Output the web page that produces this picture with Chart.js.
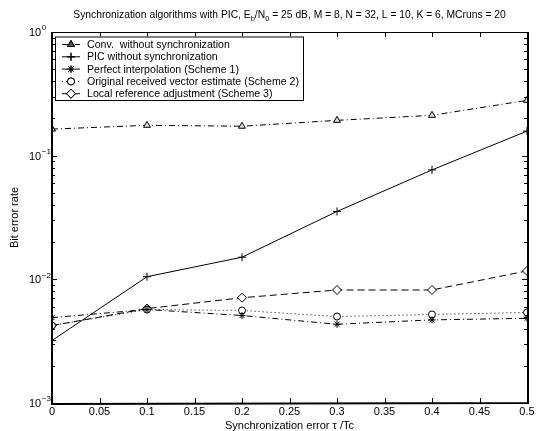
<!DOCTYPE html>
<html>
<head>
<meta charset="utf-8">
<script src="https://cdn.jsdelivr.net/npm/chart.js@4.4.0/dist/chart.umd.min.js"></script>
<style>
  html, body { margin: 0; padding: 0; background: #fff; }
  #wrap { width: 539px; height: 431px; }
</style>
</head>
<body>
<div id="wrap"><canvas id="berChart" width="539" height="431"></canvas></div>
<script>
// Values
const syncError = [0, 0.1, 0.2, 0.3, 0.4, 0.5];
const convNoSync = [0.164, 0.176, 0.173, 0.193, 0.212, 0.28];
const picNoSync = [0.0032, 0.0105, 0.0151, 0.0354, 0.0767, 0.158];
const perfectInterp = [0.0049, 0.0057, 0.0051, 0.00433, 0.0047, 0.00484];
const origVector = [0.00423, 0.0057, 0.0056, 0.0050, 0.0052, 0.0054];
const localRef = [0.00423, 0.0058, 0.0071, 0.0082, 0.0082, 0.0117];

const seriesNames = [
    'Conv.  without synchronization',
    'PIC without synchronization',
    'Perfect interpolation (Scheme 1)',
    'Original received vector estimate (Scheme 2)',
    'Local reference adjustment (Scheme 3)'
];
const yDecades = [0, -1, -2, -3];
const titleParts = [
    ['Synchronization algorithms with PIC, E', false],
    ['b', true],
    ['/N', false],
    ['0', true],
    [' = 25 dB, M = 8, N = 32, L = 10, K = 6, MCruns = 20', false]
];

const FONT = '"Liberation Sans", Arial, Helvetica, sans-serif';

function toPoints(ys) {
    return syncError.map((x, i) => ({ x: x, y: ys[i] }));
}

function series(label, ys, pointStyle, dash, radius, fill) {
    return {
        label: label,
        data: toPoints(ys),
        borderColor: '#000',
        borderWidth: 1,
        borderDash: dash,
        pointStyle: pointStyle,
        pointRadius: radius,
        pointBorderColor: '#000',
        pointBorderWidth: 1,
        pointBackgroundColor: fill,
        tension: 0
    };
}

const datasets = [
    series(seriesNames[0], convNoSync, 'triangle', [6, 3, 1, 3], 4, '#ddd'),
    series(seriesNames[1], picNoSync, 'cross', [], 4, '#000'),
    series(seriesNames[2], perfectInterp, 'star', [6, 3, 1, 3], 3.5, '#000'),
    series(seriesNames[3], origVector, 'circle', [1, 3], 3.5, '#fff'),
    series(seriesNames[4], localRef, 'rectRot', [7, 4], 4.5, '#fff')
];

// inward ticks, box, y labels, legend and title
const matlabDecor = {
    id: 'matlabDecor',
    afterDatasetsDraw(chart) {
        const ctx = chart.ctx;
        const a = chart.chartArea;
        const xs = chart.scales.x;
        const ys = chart.scales.y;
        ctx.save();
        ctx.strokeStyle = '#000';
        ctx.fillStyle = '#000';
        ctx.lineWidth = 1;
        ctx.setLineDash([]);

        // x ticks
        ctx.beginPath();
        xs.ticks.forEach(t => {
            const px = Math.round(xs.getPixelForValue(t.value)) + 0.5;
            ctx.moveTo(px, a.bottom); ctx.lineTo(px, a.bottom - 5);
            ctx.moveTo(px, a.top); ctx.lineTo(px, a.top + 5);
        });
        // y ticks (major at decades, minor between)
        ys.ticks.forEach(t => {
            const py = Math.round(ys.getPixelForValue(t.value)) + 0.5;
            const lg = Math.log10(t.value);
            const len = Math.abs(lg - Math.round(lg)) < 1e-6 ? 5 : 3;
            ctx.moveTo(a.left, py); ctx.lineTo(a.left + len, py);
            ctx.moveTo(a.right, py); ctx.lineTo(a.right - len, py);
        });
        ctx.stroke();

        // axes box
        ctx.lineWidth = 1;
        ctx.strokeRect(a.left + 0.5, a.top + 0.5, a.right - a.left, a.bottom - a.top);
        ctx.lineWidth = 2;
        ctx.beginPath();
        ctx.moveTo(a.left, a.top); ctx.lineTo(a.left, a.bottom + 1);
        ctx.lineTo(a.right + 1, a.bottom); ctx.lineTo(a.right + 1, a.top);
        ctx.stroke();

        // y tick labels 10^n
        ctx.textBaseline = 'middle';
        ctx.textAlign = 'left';
        yDecades.forEach(e => {
            const py = ys.getPixelForValue(Math.pow(10, e));
            ctx.font = '11px ' + FONT;
            ctx.fillText('10', a.left - 23, py + 1);
            const w = ctx.measureText('10').width;
            ctx.font = '8px ' + FONT;
            ctx.fillText(e === 0 ? '0' : '\u2212' + (-e), a.left - 23 + w + 0.5, py - 4);
        });

        // legend
        const lx = a.left + 3, ly = a.top + 4.5, lw = 248, lh = 63.5;
        ctx.fillStyle = '#fff';
        ctx.fillRect(lx, ly, lw, lh);
        ctx.lineWidth = 1;
        ctx.strokeStyle = '#000';
        ctx.strokeRect(lx + 0.5, ly + 0.5, lw, lh);
        ctx.font = '10.6px ' + FONT;
        chart.data.datasets.forEach((ds, i) => {
            const y = ly + 8 + i * 12.3;
            ctx.save();
            ctx.setLineDash(ds.borderDash);
            ctx.lineWidth = 1;
            ctx.beginPath();
            ctx.moveTo(lx + 7, y); ctx.lineTo(lx + 25, y);
            ctx.stroke();
            ctx.restore();
            Chart.helpers.drawPoint(ctx, {
                pointStyle: ds.pointStyle,
                radius: ds.pointRadius,
                rotation: 0,
                borderWidth: 1
            }, lx + 16, y);
            ctx.fillStyle = ds.pointStyle === 'triangle' ? '#555' : ds.pointBackgroundColor;
            ctx.fill();
            ctx.stroke();
            ctx.fillStyle = '#000';
            ctx.fillText(ds.label, lx + 32, y + 0.5);
        });

        // title with subscripts
        ctx.textBaseline = 'alphabetic';
        let total = 0;
        titleParts.forEach(p => {
            ctx.font = (p[1] ? '7.5px ' : '10.3px ') + FONT;
            total += ctx.measureText(p[0]).width;
        });
        let tx = (a.left + a.right) / 2 - total / 2;
        titleParts.forEach(p => {
            ctx.font = (p[1] ? '7.5px ' : '10.3px ') + FONT;
            ctx.fillText(p[0], tx, p[1] ? 21 : 18);
            tx += ctx.measureText(p[0]).width;
        });
        ctx.restore();
    }
};

const ctx = document.getElementById('berChart');
new Chart(ctx, {
    type: 'line',
    data: { datasets: datasets },
    options: {
        responsive: false,
        animation: false,
        devicePixelRatio: 1,
        layout: { padding: { left: 9, right: 12, top: 32, bottom: 0 } },
        plugins: { legend: { display: false }, tooltip: { enabled: false } },
        scales: {
            x: {
                type: 'linear',
                min: 0,
                max: 0.5,
                grid: { display: false, drawTicks: false },
                border: { display: false },
                ticks: {
                    stepSize: 0.05,
                    padding: 3,
                    color: '#000',
                    font: { family: FONT, size: 11, lineHeight: 1 },
                    maxRotation: 0,
                    callback: v => String(Number(v.toFixed(2)))
                },
                title: {
                    display: true,
                    text: 'Synchronization error \u03c4 /Tc',
                    color: '#000',
                    padding: { top: 0, bottom: 0 },
                    font: { family: FONT, size: 11, lineHeight: 1 }
                }
            },
            y: {
                type: 'logarithmic',
                min: 0.001,
                max: 1,
                grid: { display: false, drawTicks: false },
                border: { display: false },
                ticks: { display: false },
                afterBuildTicks: scale => {
                    const t = [];
                    for (let e = -3; e < 0; e++) {
                        for (let m = 1; m < 10; m++) t.push({ value: m * Math.pow(10, e) });
                    }
                    t.push({ value: 1 });
                    scale.ticks = t;
                },
                afterFit: scale => { scale.width = 43; },
                title: {
                    display: true,
                    text: 'Bit error rate',
                    color: '#000',
                    padding: { top: 0, bottom: 0 },
                    font: { family: FONT, size: 11, lineHeight: 1 }
                }
            }
        }
    },
    plugins: [matlabDecor]
});
</script>
</body>
</html>
